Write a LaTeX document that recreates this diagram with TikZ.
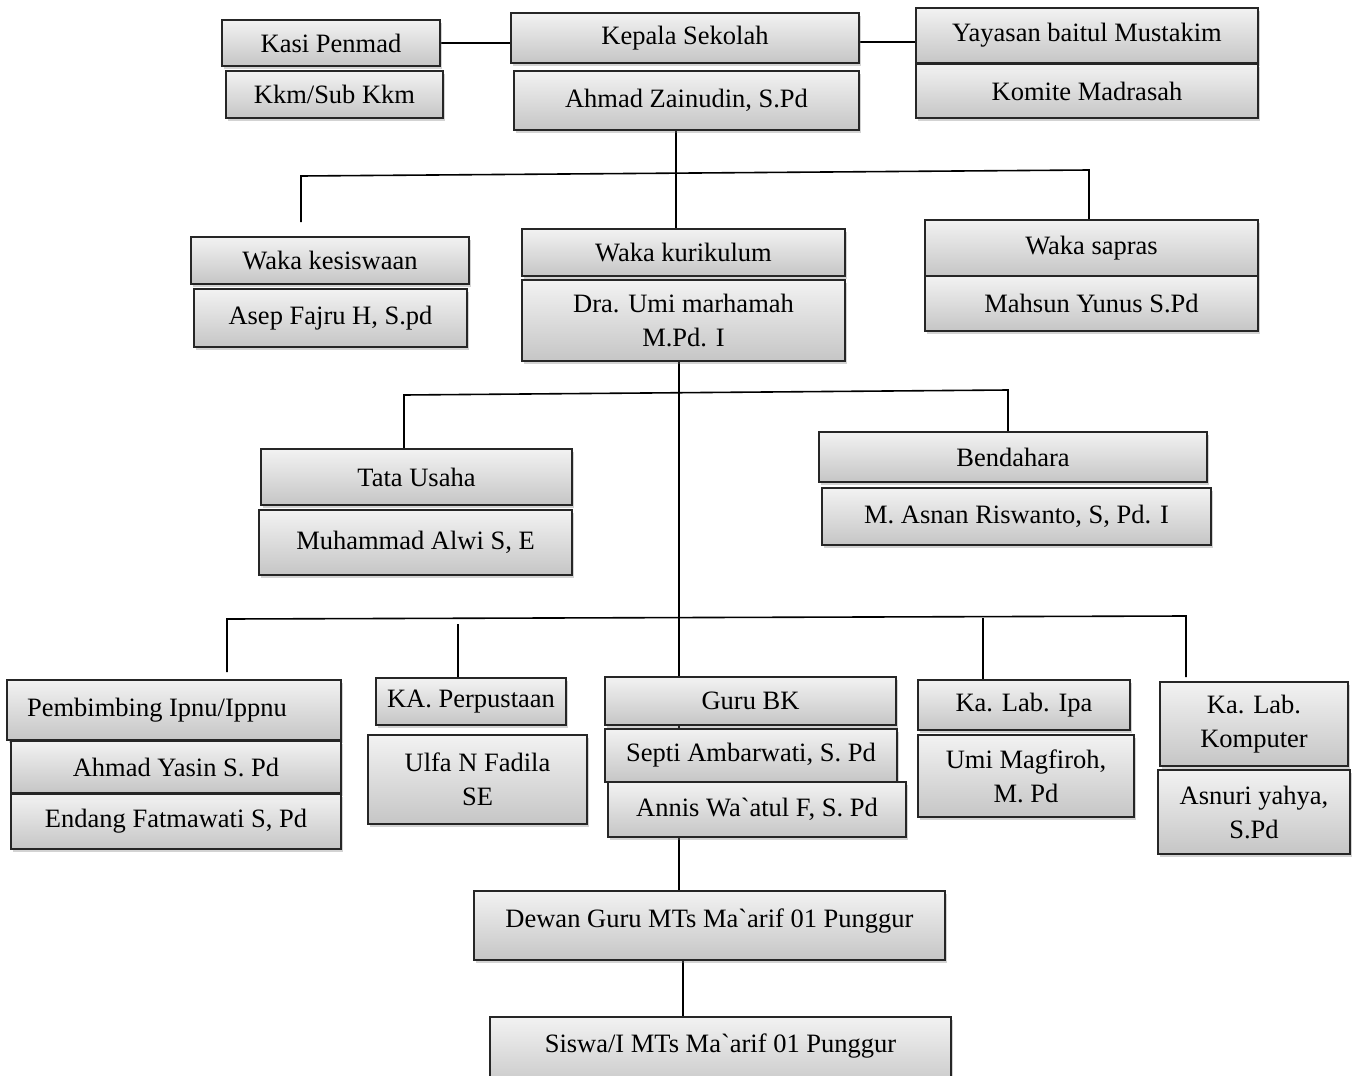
\documentclass[tikz,border=0pt]{standalone}
\usepackage{fontspec}
\newfontfamily\boxfont{Liberation Serif}
\usetikzlibrary{shadows,backgrounds}
\tikzset{
  box/.style={draw=black!85, line width=1.4pt, top color=gray!10, bottom color=gray!45,
    align=center, inner sep=0pt,
    font=\boxfont\fontsize{26.5}{34}\selectfont,
    drop shadow={opacity=0.35, shadow xshift=2pt, shadow yshift=-3pt}},
  conn/.style={line width=1.6pt, black}
}
\newcommand\bx[6]{\node[box, minimum width={(#4)-(#2)}, minimum height={(#5)-(#3)}] (#1) at ({((#2)+(#4))/2},{((#3)+(#5))/2}) {#6};}
\begin{document}
\begin{tikzpicture}[x=1pt,y=-1pt]
\useasboundingbox (0,0) rectangle (1358,1076);
% top row
\bx{ks}{222}{20}{440}{66}{Kasi Penmad}
\bx{kkm}{226}{71}{443}{118}{Kkm/Sub Kkm}
\bx{kep}{511}{13}{859}{63}{Kepala Sekolah}
\bx{ahz}{514}{71}{859}{130}{Ahmad Zainudin, S.Pd}
\bx{yay}{916}{8}{1258}{63}{Yayasan baitul Mustakim}
\bx{kom}{916}{64}{1258}{118}{Komite Madrasah}
% second row
\bx{wkes}{191}{237}{469}{284}{Waka kesiswaan}
\bx{asep}{194}{289}{467}{347}{Asep Fajru H, S.pd}
\bx{wkur}{522}{229}{845}{276}{Waka kurikulum}
\bx{dra}{522}{280}{845}{361}{Dra. Umi marhamah\\M.Pd. I}
\bx{wsap}{925}{220}{1258}{276}{Waka sapras}
\bx{mah}{925}{276}{1258}{331}{Mahsun Yunus S.Pd}
% third row
\bx{tu}{261}{449}{572}{505}{Tata Usaha}
\bx{alwi}{259}{510}{572}{575}{Muhammad Alwi S, E}
\bx{bend}{819}{432}{1207}{482}{Bendahara}
\bx{asnan}{822}{488}{1211}{545}{M. Asnan Riswanto, S, Pd. I}
% fourth row
\bx{pemb}{7}{680}{341}{740}{Pembimbing Ipnu/Ippnu\hspace*{34pt}}
\bx{yasin}{11}{741}{341}{793}{Ahmad Yasin S. Pd}
\bx{endang}{11}{794}{341}{849}{Endang Fatmawati S, Pd}
\bx{perp}{376}{678}{566}{725}{KA. Perpustaan}
\bx{ulfa}{368}{735}{587}{824}{Ulfa N Fadila\\SE}
\bx{gbk}{605}{677}{896}{725}{Guru BK}
\bx{septi}{605}{729}{897}{782}{Septi Ambarwati, S. Pd}
\bx{annis}{608}{782}{906}{837}{Annis Wa`atul F, S. Pd}
\bx{ipa}{918}{680}{1130}{730}{Ka. Lab. Ipa}
\bx{umi}{918}{735}{1134}{817}{Umi Magfiroh,\\M. Pd}
\bx{komp}{1160}{682}{1348}{766}{Ka. Lab.\\Komputer}
\bx{asnuri}{1158}{770}{1350}{854}{Asnuri yahya,\\S.Pd}
% bottom
\bx{dewan}{474}{891}{945}{960}{\raisebox{15pt}{Dewan Guru MTs Ma`arif 01 Punggur}}
\bx{siswa}{490}{1017}{951}{1092}{\raisebox{23pt}{Siswa/I MTs Ma`arif 01 Punggur}}
% coordinates
\coordinate (t1) at (676,0);
\coordinate (t2) at (679,0);
\coordinate (t3) at (683,0);
\coordinate (h1) at (0,42);
\coordinate (b1l) at (301,176);
\coordinate (b1r) at (1089,170);
\coordinate (d1l) at (301,222);
\coordinate (b2l) at (404,395);
\coordinate (b2r) at (1008,390);
\coordinate (b3l) at (227,619);
\coordinate (b3r) at (1186,616);
\coordinate (d3a) at (227,672);
\coordinate (d3b) at (458,624);
\coordinate (d3c) at (983,618);
\coordinate (d3e) at (1186,677);
\begin{pgfonlayer}{background}
\draw[conn] (ks.east) -- (ks.east -| kep.west);
\draw[conn] (kep.east |- h1) -- (yay.west |- h1);
\draw[conn] (ahz.south -| t1) -- (wkur.north -| t1);
\draw[conn] (d1l) -- (b1l) -- (b1r) -- (wsap.north -| b1r);
\draw[conn] (dra.south -| t2) -- (dewan.north -| t2);
\draw[conn] (tu.north -| b2l) -- (b2l) -- (b2r) -- (bend.north -| b2r);
\draw[conn] (d3a) -- (b3l) -- (b3r) -- (d3e);
\draw[conn] (d3b) -- (perp.north -| d3b);
\draw[conn] (d3c) -- (ipa.north -| d3c);
\draw[conn] (dewan.south -| t3) -- (siswa.north -| t3);
\end{pgfonlayer}
\end{tikzpicture}
\end{document}
